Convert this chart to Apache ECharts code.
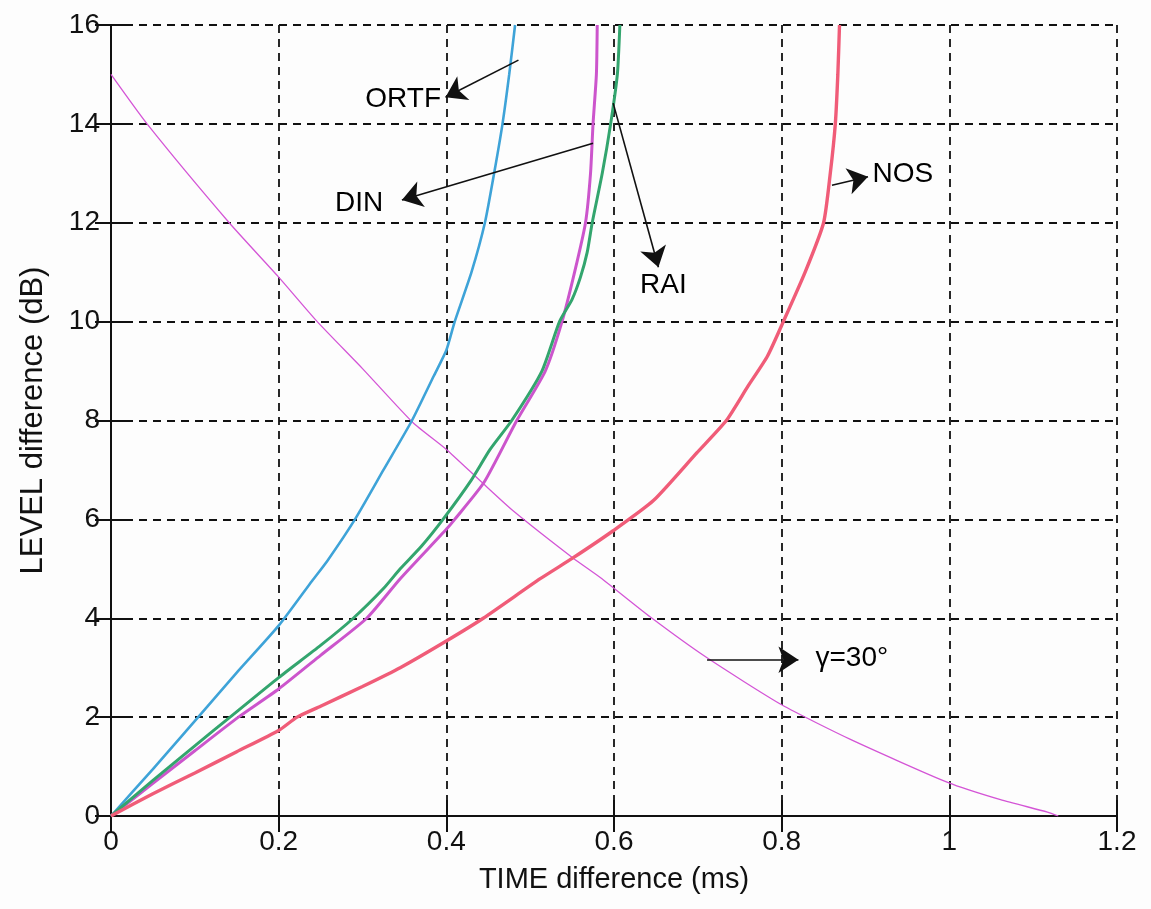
<!DOCTYPE html>
<html>
<head>
<meta charset="utf-8">
<title>LEVEL vs TIME difference</title>
<script src="https://cdn.jsdelivr.net/npm/echarts@6/dist/echarts.min.js"></script>
<style>
html, body { margin: 0; padding: 0; background: #fdfdfd; }
#chart { width: 1151px; height: 909px; }
</style>
</head>
<body>
<div id="chart"></div>
<script>
// curves: [time (ms), level (dB)]
var ortf = [[0,0],[0.05,0.95],[0.104,2],[0.15,2.9],[0.2,3.85],[0.24,4.76],[0.258,5.16],[0.291,6],[0.325,7],[0.359,8],[0.385,8.9],[0.4,9.42],[0.41,10],[0.43,11],[0.446,12],[0.457,13],[0.467,14],[0.475,15],[0.482,16]];
var din = [[0,0],[0.05,0.66],[0.1,1.32],[0.152,2],[0.2,2.57],[0.25,3.25],[0.305,4],[0.345,4.8],[0.4,5.8],[0.41,6],[0.445,6.75],[0.484,8],[0.518,9],[0.538,10],[0.553,11],[0.566,12],[0.572,13],[0.575,14],[0.579,15],[0.58,16]];
var rai = [[0,0],[0.05,0.72],[0.1,1.42],[0.142,2],[0.2,2.8],[0.25,3.45],[0.289,4],[0.325,4.6],[0.345,5.0],[0.37,5.45],[0.396,6],[0.43,6.8],[0.452,7.41],[0.478,8],[0.514,9],[0.535,10],[0.55,10.45],[0.56,10.9],[0.568,11.4],[0.574,12],[0.586,13],[0.596,14],[0.604,15],[0.607,16]];
var nos = [[0,0],[0.05,0.45],[0.1,0.87],[0.15,1.3],[0.2,1.73],[0.222,2],[0.25,2.22],[0.3,2.62],[0.345,3.0],[0.4,3.54],[0.444,4],[0.512,4.8],[0.551,5.22],[0.599,5.77],[0.647,6.38],[0.699,7.35],[0.734,8],[0.76,8.7],[0.783,9.3],[0.802,10],[0.828,11],[0.85,12],[0.858,13],[0.864,14],[0.867,15],[0.869,16]];
var gamma30 = [[0,15],[0.043,14],[0.141,12],[0.2,10.9],[0.246,10],[0.3,9.05],[0.36,7.96],[0.399,7.43],[0.443,6.74],[0.48,6.17],[0.551,5.22],[0.584,4.82],[0.643,4.03],[0.711,3.2],[0.8,2.25],[0.882,1.55],[0.998,0.68],[1.061,0.33],[1.117,0.08],[1.13,0]];

// annotation arrows [x1, y1, x2, y2] and labels [x, y, text, side]
var arrows = [
	[0.486,15.29,0.399,14.54],
	[0.575,13.61,0.347,12.46],
	[0.599,14.42,0.653,11.1],
	[0.86,12.76,0.903,12.93],
	[0.711,3.16,0.82,3.16]
];
var labels = [
	[0.396,14.5,'ORTF','left'],
	[0.327,12.39,'DIN','left'],
	[0.659,10.73,'RAI','inside'],
	[0.906,12.98,'NOS','right'],
	[0.838,3.2,'γ=30°','right']
];

var font = '"Liberation Sans", Arial, sans-serif';
var ink = '#111';

var lineSeries = function(name, data, color, width){
	return {
		name: name,
		type: 'line',
		data: data,
		showSymbol: false,
		symbol: 'none',
		smooth: 0.2,
		lineStyle: {color: color, width: width},
		z: 3
	};
};

var arrowData = [];
for (var i = 0; i < arrows.length; i++) {
	var a = arrows[i];
	arrowData.push([{coord: [a[0], a[1]]}, {coord: [a[2], a[3]]}]);
}
var labelData = [];
for (var j = 0; j < labels.length; j++) {
	var l = labels[j];
	labelData.push({
		value: [l[0], l[1]],
		name: l[2],
		label: {position: l[3], distance: 2}
	});
}

var option = {
	backgroundColor: '#fdfdfd',
	animation: false,
	grid: {left: 111, right: 34, top: 25, bottom: 93, containLabel: false},
	xAxis: [{
		type: 'value', min: 0, max: 1.2, interval: 0.2,
		name: 'TIME difference (ms)', nameLocation: 'middle', nameGap: 49,
		nameTextStyle: {fontFamily: font, fontSize: 29, color: ink},
		axisLine: {lineStyle: {color: ink, width: 2}},
		axisTick: {inside: true, length: 16, lineStyle: {color: ink, width: 2}},
		axisLabel: {fontFamily: font, fontSize: 28, color: ink, margin: 12,
			formatter: function(v){ return String(Number(v.toFixed(1))); }},
		splitLine: {show: true, lineStyle: {color: ink, width: 1.8, type: [8, 6]}}
	}, {
		type: 'value', min: 0, max: 1.2, interval: 0.2, position: 'top',
		axisLine: {show: true, lineStyle: {color: ink, width: 2}},
		axisTick: {inside: true, length: 16, lineStyle: {color: ink, width: 2}},
		axisLabel: {show: false},
		splitLine: {show: false}
	}],
	yAxis: [{
		type: 'value', min: 0, max: 16, interval: 2,
		name: 'LEVEL difference (dB)', nameLocation: 'middle', nameGap: 62,
		nameTextStyle: {fontFamily: font, fontSize: 31, color: ink},
		axisLine: {show: true, lineStyle: {color: ink, width: 2}},
		axisTick: {show: true, inside: true, length: 16, lineStyle: {color: ink, width: 2}},
		axisLabel: {fontFamily: font, fontSize: 28, color: ink, margin: 11},
		splitLine: {show: true, lineStyle: {color: ink, width: 1.8, type: [8, 6]}}
	}, {
		type: 'value', min: 0, max: 16, interval: 2, position: 'right',
		axisLine: {show: true, lineStyle: {color: ink, width: 2}},
		axisTick: {show: true, inside: true, length: 16, lineStyle: {color: ink, width: 2}},
		axisLabel: {show: false},
		splitLine: {show: false}
	}],
	series: [
		lineSeries('γ=30°', gamma30, '#d455d6', 1.3),
		lineSeries('ORTF', ortf, '#3ea3d8', 2.6),
		lineSeries('DIN', din, '#cc55cc', 3),
		lineSeries('RAI', rai, '#33a56e', 3),
		lineSeries('NOS', nos, '#f05c78', 3.4),
		{
			name: 'notes',
			type: 'scatter',
			symbolSize: 0,
			itemStyle: {opacity: 1},
			data: labelData,
			label: {show: true, formatter: '{b}', fontFamily: font, fontSize: 28,
				color: '#000', opacity: 1, textBorderWidth: 0},
			markLine: {
				silent: true,
				symbol: ['none', 'arrow'],
				symbolSize: 20,
				label: {show: false},
				lineStyle: {color: ink, width: 1.6, type: 'solid', opacity: 1},
				data: arrowData
			},
			z: 5
		}
	]
};

var myChart = echarts.init(document.getElementById('chart'));
myChart.setOption(option);
</script>
</body>
</html>
